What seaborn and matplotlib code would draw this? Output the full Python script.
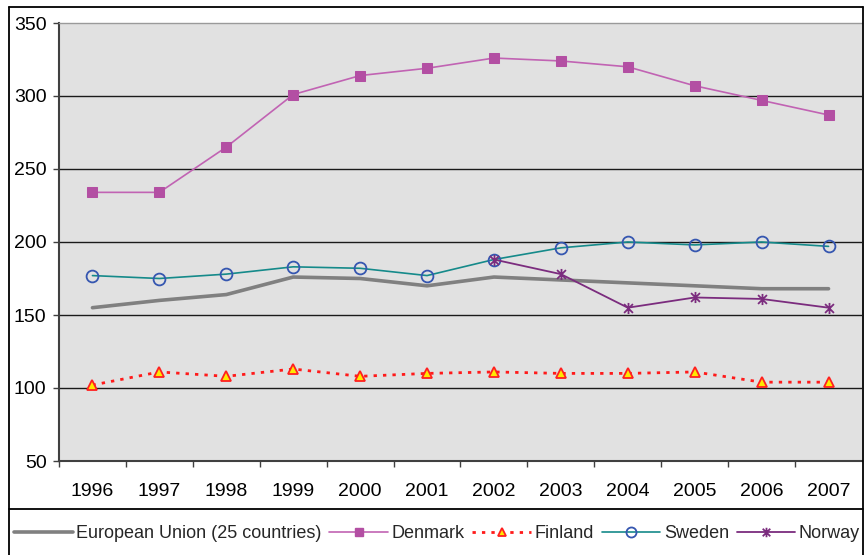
import numpy as np
import pandas as pd
import matplotlib
matplotlib.use("Agg")
import matplotlib.pyplot as plt
from matplotlib.path import Path
from matplotlib.lines import Line2D
import seaborn as sns

years = ["1996", "1997", "1998", "1999", "2000", "2001",
         "2002", "2003", "2004", "2005", "2006", "2007"]
eu25 = [155, 160, 164, 176, 175, 170, 176, 174, 172, 170, 168, 168]
denmark = [234, 234, 265, 301, 314, 319, 326, 324, 320, 307, 297, 287]
finland = [102, 111, 108, 113, 108, 110, 111, 110, 110, 111, 104, 104]
sweden = [177, 175, 178, 183, 182, 177, 188, 196, 200, 198, 200, 197]
norway_years = ["2002", "2003", "2004", "2005", "2006", "2007"]
norway = [188, 178, 155, 162, 161, 155]

yticks = [50, 100, 150, 200, 250, 300, 350]

sns.set_theme(style="white")
plt.rcParams["font.family"] = ["Liberation Sans", "DejaVu Sans"]

W, H = 864, 555
fig = plt.figure(figsize=(W / 100, H / 100), dpi=100)
fig.patch.set_facecolor("white")

# plot area in pixel coordinates
left, right, top, bottom = 59, 862, 23, 461
ax = fig.add_axes([left / W, (H - bottom) / H, (right - left) / W, (bottom - top) / H])
ax.set_facecolor("#E1E1E1")

pos = {y: i for i, y in enumerate(years)}
df = pd.DataFrame({"x": [pos[y] for y in years], "eu": eu25, "dk": denmark,
                   "fi": finland, "se": sweden})
dno = pd.DataFrame({"x": [pos[y] for y in norway_years], "no": norway})

# Excel-style star marker: an X with a vertical bar
star = Path([(-1, -1), (1, 1), (-1, 1), (1, -1), (0, -1.25), (0, 1.25)],
            [Path.MOVETO, Path.LINETO, Path.MOVETO, Path.LINETO, Path.MOVETO, Path.LINETO])

for yv in [100, 150, 200, 250, 300]:
    ax.axhline(yv, color="#1A1A1A", lw=1.0, zorder=1)

styles = {
    "eu": dict(color="#808080", lw=2.6, marker=None),
    "dk": dict(color="#C163B3", lw=1.2, marker="s", ms=6.5, mfc="#B34FA3", mec="#B34FA3"),
    "fi": dict(color="#FF1A1A", lw=2.0, linestyle=(0, (1.2, 2.2)), marker="^", ms=7.5,
               mfc="#FFE800", mec="#FF2020", mew=1.3),
    "se": dict(color="#158A8A", lw=1.2, marker="o", ms=8.5, mfc="none",
               mec="#3556B0", mew=1.3),
    "no": dict(color="#7B2C7E", lw=1.3, marker=star, ms=8, mec="#7B2C7E", mew=1.3),
}

sns.lineplot(data=df, x="x", y="eu", ax=ax, zorder=3, **styles["eu"])
sns.lineplot(data=df, x="x", y="dk", ax=ax, zorder=4, **styles["dk"])
sns.lineplot(data=df, x="x", y="fi", ax=ax, zorder=5, **styles["fi"])
sns.lineplot(data=df, x="x", y="se", ax=ax, zorder=6, **styles["se"])
sns.lineplot(data=dno, x="x", y="no", ax=ax, zorder=7, **styles["no"])

ax.set_xlim(-0.5, len(years) - 0.5)
ax.set_ylim(50, 350)
ax.set_yticks(yticks)
ax.set_yticklabels([str(v) for v in yticks])
ax.set_xticks(range(len(years)))
ax.set_xticklabels(years)
ax.set_xticks(np.arange(-0.5, len(years) - 0.5, 1.0), minor=True)
ax.set_xlabel("")
ax.set_ylabel("")

ax.tick_params(axis="y", which="major", left=True, length=4.5, width=1.0,
               color="#404040", labelsize=14, pad=4.5, labelcolor="black")
ax.tick_params(axis="x", which="major", bottom=False, length=0, labelsize=14,
               pad=15.5, labelcolor="black")
ax.tick_params(axis="x", which="minor", bottom=True, length=4.5, width=1.0,
               color="#404040")

for s in ["left", "bottom"]:
    ax.spines[s].set_color("#404040")
    ax.spines[s].set_linewidth(1.5)
ax.spines["top"].set_color("#9A9A9A")
ax.spines["top"].set_linewidth(1.0)
ax.spines["right"].set_visible(False)

# outer frame and legend separator
frame_kw = dict(color="black", lw=1.3, transform=fig.transFigure, zorder=10)
fx0, fx1, fy0 = 8.5 / W, 862.5 / W, 1 - 6.5 / H
fig.add_artist(Line2D([fx0, fx1], [fy0, fy0], **frame_kw))
fig.add_artist(Line2D([fx0, fx0], [fy0, -0.01], **frame_kw))
fig.add_artist(Line2D([fx1, fx1], [fy0, -0.01], **frame_kw))
fig.add_artist(Line2D([fx0, fx1], [1 - 509 / H, 1 - 509 / H], **frame_kw))

labels = ["European Union (25 countries)", "Denmark", "Finland", "Sweden", "Norway"]
handles = []
for k in ["eu", "dk", "fi", "se", "no"]:
    st = dict(styles[k])
    handles.append(Line2D([], [], **st))
fig.legend(handles, labels, loc="center left", bbox_to_anchor=(14 / W, 1 - 534 / H),
           ncol=5, frameon=False, fontsize=13, handlelength=3.25, handletextpad=0.2,
           columnspacing=0.42, borderpad=0, borderaxespad=0, markerscale=0.85)

fig.savefig("out.png", dpi=100)
